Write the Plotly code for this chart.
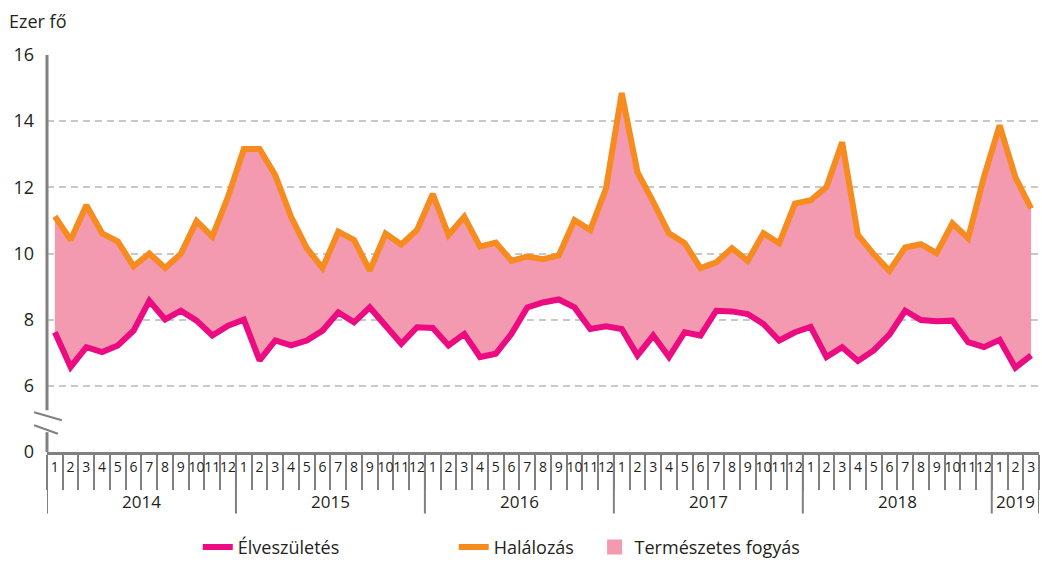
import plotly.graph_objects as go

years = ["2014", "2015", "2016", "2017", "2018", "2019"]
month_labels = [str(m) for m in range(1, 13)] * 5 + ["1", "2", "3"]

deaths = [11.12, 10.41, 11.46, 10.61, 10.36, 9.61, 10.0, 9.56, 9.99, 10.98, 10.51, 11.72,
          13.16, 13.16, 12.36, 11.11, 10.16, 9.56, 10.66, 10.41, 9.48, 10.6, 10.27, 10.71,
          11.8, 10.56, 11.11, 10.21, 10.33, 9.78, 9.91, 9.83, 9.94, 11.01, 10.71, 11.96,
          14.85, 12.46, 11.56, 10.61, 10.31, 9.56, 9.73, 10.16, 9.78, 10.61, 10.31, 11.51,
          11.61, 12.01, 13.36, 10.56, 9.98, 9.48, 10.18, 10.28, 10.01, 10.91, 10.46, 12.31,
          13.87, 12.31, 11.36]
births = [7.62, 6.57, 7.17, 7.02, 7.22, 7.67, 8.57, 8.01, 8.27, 7.97, 7.52, 7.82,
          8.0, 6.77, 7.37, 7.22, 7.37, 7.67, 8.22, 7.92, 8.37, 7.82, 7.27, 7.77,
          7.75, 7.22, 7.57, 6.87, 6.97, 7.57, 8.37, 8.52, 8.61, 8.37, 7.72, 7.8,
          7.72, 6.92, 7.52, 6.87, 7.62, 7.52, 8.27, 8.25, 8.17, 7.87, 7.37, 7.62,
          7.78, 6.87, 7.17, 6.75, 7.07, 7.55, 8.27, 7.99, 7.95, 7.97, 7.32, 7.17,
          7.39, 6.55, 6.92]

y_tickvals = [4, 6, 8, 10, 12, 14, 16]
y_ticktext = ["0", "6", "8", "10", "12", "14", "16"]

x = list(range(len(deaths)))

PINK = "#ec0b80"
ORANGE = "#f68b1f"
FILL = "#f49ab0"
AXIS = "#808080"
TXT = "#231f20"
FONT = "Open Sans"

fig = go.Figure()
# base for fill
fig.add_trace(go.Scatter(x=x, y=births, mode="lines", line=dict(width=0, color=PINK),
                         showlegend=False, hoverinfo="skip"))
fig.add_trace(go.Scatter(x=x, y=deaths, mode="lines", line=dict(width=0, color=ORANGE),
                         fill="tonexty", fillcolor=FILL, showlegend=False, hoverinfo="skip"))
fig.add_trace(go.Scatter(x=x, y=births, mode="lines", name="Élveszületés",
                         line=dict(width=6, color=PINK), legend="legend"))
fig.add_trace(go.Scatter(x=x, y=deaths, mode="lines", name="Halálozás",
                         line=dict(width=6, color=ORANGE), legend="legend2"))
fig.add_trace(go.Scatter(x=[None], y=[None], mode="markers", name="Természetes fogyás",
                         marker=dict(symbol="square", size=15, color=FILL), legend="legend3"))

n = len(deaths)
bounds = [-0.5]
starts = []
i = 0
for yr in years:
    cnt = 12 if yr != "2019" else 3
    starts.append((yr, i, i + cnt - 1))
    i += cnt
    bounds.append(i - 0.5)

shapes = []
for b in bounds:
    shapes.append(dict(type="line", xref="x", yref="paper", x0=b, x1=b, y0=0, y1=-0.155,
                       line=dict(color=AXIS, width=2)))
# y axis line with break
shapes.append(dict(type="line", xref="paper", yref="y", x0=0, x1=0, y0=5.26, y1=16,
                   line=dict(color=AXIS, width=3)))
shapes.append(dict(type="line", xref="paper", yref="y", x0=0, x1=0, y0=4, y1=4.6,
                   line=dict(color=AXIS, width=3)))
shapes.append(dict(type="line", xref="paper", yref="y", x0=-0.013, x1=0.015, y0=5.2, y1=4.96,
                   line=dict(color=AXIS, width=2)))
shapes.append(dict(type="line", xref="paper", yref="y", x0=-0.013, x1=0.011, y0=4.81, y1=4.55,
                   line=dict(color=AXIS, width=2)))

annotations = []
for yr, a, b in starts:
    annotations.append(dict(text=yr, x=(a + b) / 2, xref="x", y=-0.125, yref="paper",
                            showarrow=False, font=dict(size=17, color=TXT, family=FONT),
                            xanchor="center", yanchor="middle"))
annotations.append(dict(text="Ezer fő", x=-0.04, xref="paper", y=1.085, yref="paper",
                        showarrow=False, font=dict(size=18, color=TXT, family=FONT),
                        xanchor="left", yanchor="middle"))

leg_common = dict(orientation="h", yanchor="middle", y=-0.24, xanchor="left",
                  font=dict(size=18, color=TXT, family=FONT), bgcolor="rgba(0,0,0,0)",
                  borderwidth=0)

fig.update_layout(
    width=1042, height=569,
    margin=dict(l=47, r=3, t=55, b=106),
    paper_bgcolor="white", plot_bgcolor="white",
    font=dict(family=FONT, color=TXT),
    shapes=shapes, annotations=annotations,
    legend=dict(x=0.152, **leg_common),
    legend2=dict(x=0.41, **leg_common),
    legend3=dict(x=0.552, **leg_common),
    xaxis=dict(range=[-0.5, n - 0.5], tickmode="array", tickvals=x, ticktext=month_labels,
               ticks="", tickangle=0, showgrid=False, zeroline=False, showline=True,
               linecolor=AXIS, linewidth=3, tickfont=dict(size=14, color=TXT, family=FONT),
               minor=dict(ticks="outside", ticklen=35, tickwidth=2, tickcolor=AXIS,
                          tickmode="linear", tick0=-0.5, dtick=1, showgrid=False)),
    yaxis=dict(range=[4, 16], tickmode="array", tickvals=y_tickvals, ticktext=y_ticktext,
               showline=False, zeroline=False, showgrid=True, gridcolor="#c8c8c8",
               gridwidth=1.5, griddash="7px,5px", ticks="", ticklabelstandoff=12,
               tickfont=dict(size=18, color=TXT, family=FONT)),
)

fig.write_html("out.html", config={"displayModeBar": False},
               post_script="document.body.style.margin='0';")
